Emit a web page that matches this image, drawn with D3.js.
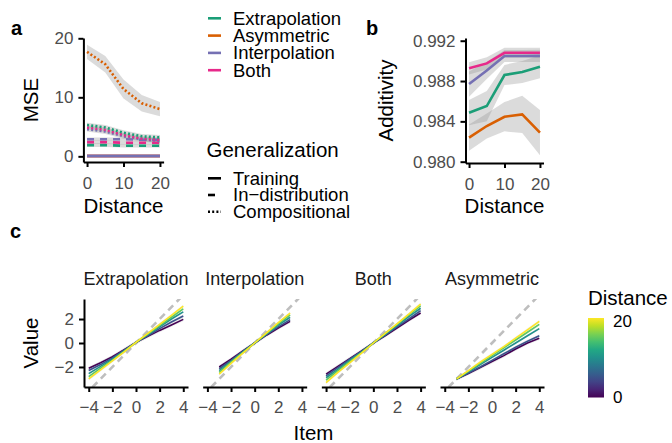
<!DOCTYPE html>
<html>
<head>
<meta charset="utf-8">
<script src="https://cdn.jsdelivr.net/npm/d3@7"></script>
<style>
  html, body { margin: 0; padding: 0; background: #fff; }
  svg { display: block; font-family: "Liberation Sans", Arial, sans-serif; }
</style>
</head>
<body>
<svg id="chart" width="672" height="443"></svg>
<script>
// ──────────────────────────────────────────────────────────────────────────
// Data
// ──────────────────────────────────────────────────────────────────────────
const distances = [0, 5, 10, 15, 20];
const conditions = ["Extrapolation", "Asymmetric", "Interpolation", "Both"];
const generalizations = ["Training", "In\u2212distribution", "Compositional"];

// panel a: MSE per condition, by generalization type
const mseTraining = {
  Extrapolation: [0.05, 0.05, 0.05, 0.05, 0.05],
  Asymmetric:    [0.05, 0.05, 0.05, 0.05, 0.05],
  Both:          [0.05, 0.05, 0.05, 0.05, 0.05],
  Interpolation: [0.05, 0.05, 0.05, 0.05, 0.05]
};
const mseTrainingSE = [0.05, 0.05, 0.05, 0.05, 0.05];

const mseInDistribution = {
  Extrapolation: [1.9, 1.9, 1.8, 1.8, 1.8],
  Both:          [2.4, 2.4, 2.3, 2.3, 2.3],
  Interpolation: [2.9, 2.9, 2.9, 2.8, 2.8]
};
const mseInDistributionSE = [0.3, 0.3, 0.3, 0.3, 0.3];

const mseCompositional = {
  Asymmetric:    [17.7, 15.6, 11.4, 9.0, 8.0],
  Interpolation: [4.6, 4.2, 3.4, 2.9, 2.6],
  Both:          [4.9, 4.5, 3.6, 3.0, 2.8],
  Extrapolation: [5.3, 4.9, 4.0, 3.4, 3.2]
};
const mseCompositionalSE = {
  Asymmetric:    [1.2, 1.4, 1.6, 1.4, 1.2],
  Interpolation: [0.4, 0.4, 0.4, 0.4, 0.4],
  Both:          [0.4, 0.4, 0.4, 0.4, 0.4],
  Extrapolation: [0.4, 0.4, 0.4, 0.4, 0.4]
};

// panel b: additivity
const additivity = {
  Asymmetric:    [0.98238, 0.98354, 0.98446, 0.98469, 0.98288],
  Extrapolation: [0.98486, 0.98552, 0.98860, 0.98890, 0.98942],
  Interpolation: [0.98770, 0.98905, 0.99048, 0.99048, 0.99050],
  Both:          [0.98926, 0.98975, 0.99080, 0.99080, 0.99080]
};
const additivitySE = {
  Asymmetric:    [0.0013, 0.00125, 0.00145, 0.00185, 0.00225],
  Extrapolation: [0.00125, 0.0015, 0.0010, 0.0011, 0.00115],
  Interpolation: [0.00125, 0.00085, 0.0006, 0.0006, 0.0006],
  Both:          [0.0006, 0.0006, 0.0005, 0.0005, 0.0005]
};

// panel c: value by item, one row per distance (0, 5, 10, 15, 20)
const facetNames = ["Extrapolation", "Interpolation", "Both", "Asymmetric"];
const itemsExtrapolation = [-4, -3, -2, -1, 0, 1, 2, 3, 4];
const itemsInterpolation = [-3, -2, -1, 0, 1, 2, 3];
const itemsBoth = [-4, -3, -2, -1, 0, 1, 2, 3, 4];
const itemsAsymmetric = [-3, -2, -1, 0, 1, 2, 3, 4];

const valueExtrapolation = [
  [-2.1, -1.65, -1.15, -0.55, 0.05, 0.55, 1.05, 1.5, 1.97],
  [-2.3, -1.8, -1.25, -0.6, 0.05, 0.6, 1.2, 1.75, 2.25],
  [-2.55, -1.95, -1.35, -0.65, 0.05, 0.7, 1.35, 2.0, 2.6],
  [-2.8, -2.1, -1.45, -0.7, 0.05, 0.75, 1.45, 2.15, 2.85],
  [-3.0, -2.25, -1.5, -0.75, 0.05, 0.8, 1.55, 2.3, 3.08]
];
const valueInterpolation = [
  [-2.0, -1.35, -0.65, 0.0, 0.65, 1.25, 1.8],
  [-2.15, -1.45, -0.7, 0.0, 0.7, 1.35, 1.95],
  [-2.3, -1.55, -0.75, 0.0, 0.75, 1.5, 2.15],
  [-2.45, -1.6, -0.8, 0.0, 0.8, 1.6, 2.35],
  [-2.6, -1.7, -0.85, 0.0, 0.85, 1.7, 2.5]
];
const valueBoth = [
  [-2.6, -1.95, -1.3, -0.65, 0.0, 0.6, 1.25, 1.9, 2.5],
  [-2.75, -2.05, -1.35, -0.7, 0.0, 0.65, 1.35, 2.0, 2.7],
  [-2.9, -2.2, -1.45, -0.75, 0.0, 0.7, 1.45, 2.2, 2.9],
  [-3.1, -2.3, -1.55, -0.8, 0.0, 0.8, 1.55, 2.35, 3.1],
  [-3.3, -2.45, -1.65, -0.85, 0.0, 0.8, 1.6, 2.4, 3.25]
];
const valueAsymmetric = [
  [-3.0, -2.55, -2.05, -1.55, -1.05, -0.5, 0.0, 0.4],
  [-3.0, -2.5, -2.0, -1.45, -0.9, -0.35, 0.15, 0.6],
  [-3.0, -2.4, -1.8, -1.2, -0.6, 0.0, 0.6, 1.2],
  [-3.0, -2.35, -1.7, -1.05, -0.4, 0.25, 0.9, 1.55],
  [-3.0, -2.3, -1.6, -0.95, -0.3, 0.4, 1.1, 1.8]
];
const valueSE = [0.15, 0.12, 0.1, 0.1, 0.12];
const identityItems = [-4.4, 4.4];

// ──────────────────────────────────────────────────────────────────────────
// Styles
// ──────────────────────────────────────────────────────────────────────────
const condColor = d3.scaleOrdinal()
  .domain(conditions)
  .range(["#1B9E77", "#D95F02", "#7570B3", "#E7298A"]);
const dashFor = { "Training": null, "In\u2212distribution": "7,6", "Compositional": "2,2.2" };
const tickSize = 17, titleSize = 20.5;
const bandFill = "#999999", bandOpacity = 0.35;

const svg = d3.select("#chart");
svg.append("rect").attr("width", 672).attr("height", 443).attr("fill", "#fff");

function styleAxis(g) {
  g.attr("font-family", null).attr("font-size", null);
  g.select(".domain").attr("stroke", "#000").attr("stroke-width", 2);
  g.selectAll(".tick line").attr("stroke", "#000").attr("stroke-width", 2);
  g.selectAll(".tick text").attr("fill", "#4D4D4D").style("font-size", tickSize + "px");
}

function panelLabel(txt, x, y) {
  svg.append("text").attr("x", x).attr("y", y)
    .style("font-size", "20px").style("font-weight", "bold").text(txt);
}

function axisTitle(txt, x, y, rotate) {
  const t = svg.append("text")
    .attr("text-anchor", "middle")
    .style("font-size", titleSize + "px")
    .text(txt);
  if (rotate) t.attr("transform", `translate(${x},${y}) rotate(-90)`);
  else t.attr("x", x).attr("y", y);
}

// ──────────────────────────────────────────────────────────────────────────
// Panel a: MSE
// ──────────────────────────────────────────────────────────────────────────
const xA = d3.scaleLinear().domain([-1, 21]).range([83.4, 163.6]);
const yA = d3.scaleLinear().domain([-0.96, 20.05]).range([162, 38]);

const gA = svg.append("g");
const seriesA = [];
Object.keys(mseTraining).forEach(c => seriesA.push({ cond: c, gen: generalizations[0], vals: mseTraining[c], se: mseTrainingSE }));
Object.keys(mseInDistribution).forEach(c => seriesA.push({ cond: c, gen: generalizations[1], vals: mseInDistribution[c], se: mseInDistributionSE }));
Object.keys(mseCompositional).forEach(c => seriesA.push({ cond: c, gen: generalizations[2], vals: mseCompositional[c], se: mseCompositionalSE[c] }));

const areaA = d3.area()
  .x(d => xA(d.x)).y0(d => yA(d.y - d.se)).y1(d => yA(d.y + d.se));
const lineA = d3.line().x(d => xA(d.x)).y(d => yA(d.y));
const ptsA = s => distances.map((x, i) => ({ x, y: s.vals[i], se: s.se[i] }));

gA.selectAll("path.band").data(seriesA).join("path")
  .attr("class", "band")
  .attr("d", s => areaA(ptsA(s)))
  .attr("fill", bandFill).attr("fill-opacity", bandOpacity);

gA.selectAll("path.line").data(seriesA).join("path")
  .attr("class", "line")
  .attr("d", s => lineA(ptsA(s)))
  .attr("fill", "none")
  .attr("stroke", s => condColor(s.cond))
  .attr("stroke-width", 2.6)
  .attr("stroke-dasharray", s => dashFor[s.gen]);

svg.append("g").attr("transform", "translate(0,162)")
  .call(d3.axisBottom(xA).tickValues([0, 10, 20]).tickSize(5).tickPadding(10).tickSizeOuter(0))
  .call(styleAxis);
svg.append("g").attr("transform", "translate(83.4,0)")
  .call(d3.axisLeft(yA).tickValues([0, 10, 20]).tickSize(5).tickPadding(5).tickSizeOuter(0))
  .call(styleAxis);

panelLabel("a", 11, 35);
axisTitle("MSE", 38, 100, true);
axisTitle("Distance", 123.5, 213);

// ──────────────────────────────────────────────────────────────────────────
// Legends for a/b (condition colour + generalization linetype)
// ──────────────────────────────────────────────────────────────────────────
const legC = svg.append("g");
conditions.forEach((c, i) => {
  const y = 18.3 + i * 17.3;
  legC.append("line").attr("x1", 208).attr("x2", 221).attr("y1", y).attr("y2", y)
    .attr("stroke", condColor(c)).attr("stroke-width", 2.6);
  legC.append("text").attr("x", 233).attr("y", y).attr("dy", "0.35em")
    .style("font-size", "18.5px").text(c);
});

svg.append("text").attr("x", 206.5).attr("y", 157)
  .style("font-size", titleSize + "px").text("Generalization");
generalizations.forEach((g, i) => {
  const y = 178.3 + i * 16.7;
  legC.append("line").attr("x1", 208).attr("x2", 221).attr("y1", y).attr("y2", y)
    .attr("stroke", "#000").attr("stroke-width", 2.6)
    .attr("stroke-dasharray", dashFor[g]);
  legC.append("text").attr("x", 233).attr("y", y).attr("dy", "0.35em")
    .style("font-size", "18.5px").text(g);
});

// ──────────────────────────────────────────────────────────────────────────
// Panel b: Additivity
// ──────────────────────────────────────────────────────────────────────────
const xB = d3.scaleLinear().domain([-1, 21]).range([465.5, 543.5]);
const yB = d3.scaleLinear().domain([0.97987, 0.99227]).range([163, 38]);

const seriesB = Object.keys(additivity).map(c => ({ cond: c, vals: additivity[c], se: additivitySE[c] }));
const ptsB = s => distances.map((x, i) => ({ x, y: s.vals[i], se: s.se[i] }));
const gB = svg.append("g");

gB.selectAll("path.band").data(seriesB).join("path")
  .attr("class", "band")
  .attr("d", s => d3.area().x(d => xB(d.x)).y0(d => yB(d.y - d.se)).y1(d => yB(d.y + d.se))(ptsB(s)))
  .attr("fill", bandFill).attr("fill-opacity", bandOpacity);

gB.selectAll("path.line").data(seriesB).join("path")
  .attr("class", "line")
  .attr("d", s => d3.line().x(d => xB(d.x)).y(d => yB(d.y))(ptsB(s)))
  .attr("fill", "none")
  .attr("stroke", s => condColor(s.cond))
  .attr("stroke-width", 2.6);

svg.append("g").attr("transform", "translate(0,163)")
  .call(d3.axisBottom(xB).tickValues([0, 10, 20]).tickSize(5).tickPadding(10).tickSizeOuter(0))
  .call(styleAxis);
svg.append("g").attr("transform", "translate(465.5,0)")
  .call(d3.axisLeft(yB).tickValues([0.980, 0.984, 0.988, 0.992]).tickFormat(d3.format(".3f"))
    .tickSize(5).tickPadding(5).tickSizeOuter(0))
  .call(styleAxis);

panelLabel("b", 366, 35);
axisTitle("Additivity", 393, 100.5, true);
axisTitle("Distance", 504.5, 213);

// ──────────────────────────────────────────────────────────────────────────
// Panel c: item value facets
// ──────────────────────────────────────────────────────────────────────────
const facetItems = [itemsExtrapolation, itemsInterpolation, itemsBoth, itemsAsymmetric];
const facetValues = [valueExtrapolation, valueInterpolation, valueBoth, valueAsymmetric];
const yC = d3.scaleLinear().domain([-3.67, 3.67]).range([387, 299]);
const colorC = d3.scaleSequential(d3.interpolateViridis).domain([0, 20]);

facetNames.forEach((name, f) => {
  const left = 84 + f * 118.67;
  const xC = d3.scaleLinear().domain([-4.4, 4.4]).range([left, left + 104]);
  const g = svg.append("g");

  svg.append("clipPath").attr("id", "clip" + f)
    .append("rect").attr("x", left).attr("y", 299).attr("width", 104).attr("height", 88);

  // identity line
  g.append("path")
    .attr("clip-path", `url(#clip${f})`)
    .attr("d", d3.line().x(d => xC(d)).y(d => yC(d))(identityItems))
    .attr("stroke", "#BEBEBE").attr("stroke-width", 2.6)
    .attr("stroke-dasharray", "7,5").attr("fill", "none");

  const rows = facetValues[f].map((vals, k) => ({
    d: distances[k],
    pts: facetItems[f].map((x, i) => ({ x, y: vals[i], se: valueSE[k] }))
  }));

  g.selectAll("path.band").data(rows).join("path")
    .attr("class", "band")
    .attr("d", r => d3.area().x(p => xC(p.x)).y0(p => yC(p.y - p.se)).y1(p => yC(p.y + p.se))(r.pts))
    .attr("fill", bandFill).attr("fill-opacity", 0.18);

  g.selectAll("path.line").data(rows).join("path")
    .attr("class", "line")
    .attr("d", r => d3.line().x(p => xC(p.x)).y(p => yC(p.y))(r.pts))
    .attr("fill", "none")
    .attr("stroke", r => colorC(r.d))
    .attr("stroke-width", 1.6);

  svg.append("g").attr("transform", "translate(0,387)")
    .call(d3.axisBottom(xC).tickValues([-4, -2, 0, 2, 4]).tickSize(5).tickPadding(9).tickSizeOuter(0))
    .call(styleAxis);

  svg.append("text").attr("x", left + 52).attr("y", 285)
    .attr("text-anchor", "middle").style("font-size", "18px").attr("fill", "#1A1A1A")
    .text(name);

  if (f === 0) {
    svg.append("g").attr("transform", `translate(${left},0)`)
      .call(d3.axisLeft(yC).tickValues([-2, 0, 2]).tickSize(5).tickPadding(5).tickSizeOuter(0))
      .call(styleAxis);
  }
});

panelLabel("c", 10, 238);
axisTitle("Value", 38, 343, true);
axisTitle("Item", 313.5, 440);

// ──────────────────────────────────────────────────────────────────────────
// Colourbar legend
// ──────────────────────────────────────────────────────────────────────────
const yBar = d3.scaleLinear().domain([0, 20]).range([397.5, 321]);
const grad = svg.append("defs").append("linearGradient")
  .attr("id", "viridisBar").attr("x1", 0).attr("x2", 0).attr("y1", 1).attr("y2", 0);
d3.range(0, 1.0001, 0.1).forEach(t => {
  grad.append("stop").attr("offset", t).attr("stop-color", d3.interpolateViridis(t));
});
svg.append("rect")
  .attr("x", 588).attr("width", 16)
  .attr("y", yBar(20) - 3).attr("height", yBar(0) - yBar(20) + 3)
  .attr("fill", "url(#viridisBar)");
svg.append("text").attr("x", 588).attr("y", 305)
  .style("font-size", titleSize + "px").text("Distance");
[0, 20].forEach(v => {
  svg.append("text").attr("x", 613).attr("y", yBar(v)).attr("dy", "0.35em")
    .style("font-size", tickSize + "px").text(v);
});
</script>
</body>
</html>
